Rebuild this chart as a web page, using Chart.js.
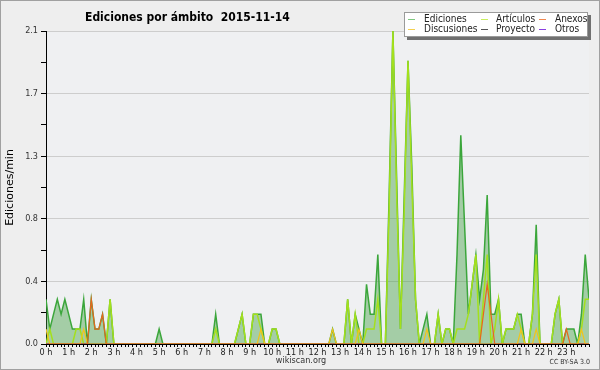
<!DOCTYPE html>
<html>
<head>
<meta charset="utf-8">
<script src="https://cdn.jsdelivr.net/npm/chart.js@4.4.1/dist/chart.umd.min.js"></script>
<style>
  html, body { margin: 0; padding: 0; background: #eeeeee; }
  canvas { display: block; }
</style>
</head>
<body>
<canvas id="grafico" width="600" height="370"></canvas>
<script>
// franjas de 10 minutos: indice 0 = 0:00 ... 144 = 24:00
const horas = ['0 h','1 h','2 h','3 h','4 h','5 h','6 h','7 h','8 h','9 h','10 h','11 h',
               '12 h','13 h','14 h','15 h','16 h','17 h','18 h','19 h','20 h','21 h','22 h','23 h'];

// ediciones por minuto, una fila = 2 horas
const ediciones = [
  0.3,0.1,0.2,0.3,0.2,0.3, 0.2,0.1,0.1,0.1,0.3,0,
  0.3,0.1,0.1,0.2,0,0.3, 0,0,0,0,0,0,
  0,0,0,0,0,0, 0.1,0,0,0,0,0,
  0,0,0,0,0,0, 0,0,0,0.2,0,0,
  0,0,0,0.1,0.2,0, 0,0.2,0.2,0.2,0,0,
  0.1,0.1,0,0,0,0, 0,0,0,0,0,0,
  0,0,0,0,0.1,0, 0,0,0.3,0,0.2,0.1,
  0,0.4,0.2,0.2,0.6,0, 0,1.0,2.1,1.1,0.1,1.0,
  1.9,1.2,0.3,0,0.1,0.2, 0,0,0.2,0,0.1,0.1,
  0,0.6,1.4,0.8,0.2,0.4, 0.6,0.3,0.5,1.0,0.2,0.2,
  0.3,0,0.1,0.1,0.1,0.2, 0.2,0,0,0.2,0.8,0,
  0,0,0,0.2,0.3,0, 0.1,0.1,0.1,0,0.2,0.6,
  0.3
];
const articulos = [
  0,0.1,0,0,0,0, 0,0,0.1,0.1,0,0,
  0,0,0,0,0,0.3, 0,0,0,0,0,0,
  0,0,0,0,0,0, 0,0,0,0,0,0,
  0,0,0,0,0,0, 0,0,0,0.1,0,0,
  0,0,0,0.1,0.2,0, 0,0.2,0.2,0.1,0,0,
  0.1,0.1,0,0,0,0, 0,0,0,0,0,0,
  0,0,0,0,0,0, 0,0,0.3,0,0.2,0,
  0,0.1,0.1,0.1,0.3,0, 0,0.9,2.1,1.0,0.1,0.9,
  1.9,1.1,0.3,0,0,0, 0,0,0.2,0,0.1,0.1,
  0,0.1,0.1,0.1,0.2,0.4, 0.6,0,0.3,0.6,0,0.1,
  0.3,0,0.1,0.1,0.1,0.2, 0.1,0,0,0.2,0.6,0,
  0,0,0,0.2,0.3,0, 0,0,0,0,0.1,0.3,
  0.3
];
const anexos = [
  0,0,0,0,0,0, 0,0,0,0,0,0,
  0.3,0.1,0.1,0.2,0,0, 0,0,0,0,0,0,
  0,0,0,0,0,0, 0,0,0,0,0,0,
  0,0,0,0,0,0, 0,0,0,0,0,0,
  0,0,0,0,0,0, 0,0,0,0,0,0,
  0,0,0,0,0,0, 0,0,0,0,0,0,
  0,0,0,0,0,0, 0,0,0,0,0,0,
  0,0,0,0,0,0, 0,0,0,0,0,0,
  0,0,0,0,0,0, 0,0,0,0,0,0,
  0,0,0,0,0,0, 0,0,0.2,0.4,0.2,0,
  0,0,0,0,0,0, 0,0,0,0,0,0,
  0,0,0,0,0,0, 0.1,0,0,0,0,0,
  0
];
const discusiones = [
  0.1,0,0,0,0,0, 0,0,0,0,0.1,0,
  0,0,0,0,0,0, 0,0,0,0,0,0,
  0,0,0,0,0,0, 0,0,0,0,0,0,
  0,0,0,0,0,0, 0,0,0,0,0,0,
  0,0,0,0,0,0, 0,0,0,0.1,0,0,
  0,0,0,0,0,0, 0,0,0,0,0,0,
  0,0,0,0,0.1,0, 0,0,0,0,0,0.1,
  0,0,0,0,0,0, 0,0,0,0,0,0,
  0,0,0,0,0,0.1, 0,0,0,0,0,0,
  0,0,0,0,0,0, 0,0,0,0,0,0,
  0,0,0,0,0,0, 0.1,0,0,0,0.1,0,
  0,0,0,0,0,0, 0,0,0,0,0.1,0,
  0
];
const proyecto = [
  0,0,0,0,0,0, 0,0,0,0,0,0,  0,0,0,0,0,0, 0,0,0,0,0,0,
  0,0,0,0,0,0, 0,0,0,0,0,0,  0,0,0,0,0,0, 0,0,0,0,0,0,
  0,0,0,0,0,0, 0,0,0,0,0,0,  0,0,0,0,0,0, 0,0,0,0,0,0,
  0,0,0,0,0,0, 0,0,0,0,0,0,  0,0,0,0,0,0, 0,0,0,0,0,0,
  0,0,0,0,0,0, 0,0,0,0,0,0,  0,0,0,0,0,0, 0,0,0,0,0,0,
  0,0,0,0,0,0, 0,0,0,0,0,0,  0,0,0,0,0,0, 0,0,0,0,0,0,
  0
];
const otros = [
  0,0,0,0,0,0, 0,0,0,0,0,0,  0,0,0,0,0,0, 0,0,0,0,0,0,
  0,0,0,0,0,0, 0,0,0,0,0,0,  0,0,0,0,0,0, 0,0,0,0,0,0,
  0,0,0,0,0,0, 0,0,0,0,0,0,  0,0,0,0,0,0, 0,0,0,0,0,0,
  0,0,0,0,0,0, 0,0,0,0,0,0,  0,0,0,0,0,0, 0,0,0,0,0,0,
  0,0,0,0,0,0, 0,0,0,0,0,0,  0,0,0,0,0,0, 0,0,0,0,0,0,
  0,0,0,0,0,0, 0,0,0,0,0,0,  0,0,0,0,0,0, 0,0,0,0,0,0,
  0
];

const franjas = ediciones.map((_, i) => i);
const COND = '"DejaVu Sans Condensed", "DejaVu Sans", sans-serif';

// fondo, titulo, leyenda y pie dibujados a mano
const decorado = {
  id: 'decorado',
  beforeDraw(chart) {
    const {ctx, chartArea: a} = chart;
    ctx.save();
    ctx.fillStyle = '#eeeeee';
    ctx.fillRect(0, 0, 600, 370);
    ctx.strokeStyle = '#a0a0a0';
    ctx.strokeRect(0.5, 0.5, 599, 369);
    ctx.fillStyle = '#eff0f2';
    ctx.fillRect(a.left, a.top, a.right - a.left, a.bottom - a.top);
    ctx.restore();
  },
  afterDraw(chart) {
    const ctx = chart.ctx;
    ctx.save();
    // titulo
    ctx.fillStyle = '#000';
    ctx.font = 'bold 12px ' + COND;
    ctx.textBaseline = 'alphabetic';
    ctx.textAlign = 'left';
    ctx.fillText('Ediciones por ámbito  2015-11-14', 85, 20.5);

    // leyenda
    ctx.textBaseline = 'middle';
    ctx.fillStyle = '#707070';
    ctx.fillRect(407, 15, 184, 25);
    ctx.fillStyle = '#ffffff';
    ctx.fillRect(404, 12, 184, 25);
    ctx.strokeStyle = '#9a9a9a';
    ctx.lineWidth = 1;
    ctx.strokeRect(404.5, 12.5, 183, 24);
    const colX = [408, 481, 539];
    const txtX = [424, 496, 555];
    const filaY = [19.5, 29.5];
    ctx.font = '10px ' + COND;
    chart.data.datasets.forEach((ds, k) => {
      const c = k % 3, f = Math.floor(k / 3);
      ctx.strokeStyle = ds.legendColor || ds.borderColor;
      ctx.beginPath();
      ctx.moveTo(colX[c], filaY[f]);
      ctx.lineTo(colX[c] + 7, filaY[f]);
      ctx.stroke();
      ctx.fillStyle = '#222';
      ctx.fillText(ds.label, txtX[c], filaY[f]);
    });

    // pie
    ctx.fillStyle = '#333';
    ctx.font = '9px ' + COND;
    ctx.textAlign = 'center';
    ctx.fillText('wikiscan.org', 301, 361);
    ctx.font = '7px ' + COND;
    ctx.textAlign = 'right';
    ctx.fillText('CC BY-SA 3.0', 590, 362);
    ctx.restore();
  }
};

new Chart(document.getElementById('grafico'), {
  type: 'line',
  data: {
    labels: franjas,
    datasets: [
      { label: 'Ediciones', data: ediciones, borderColor: '#3ba63b', legendColor: '#80c880',
        backgroundColor: 'rgba(64,160,64,0.43)', fill: 'origin', borderWidth: 1.5, order: 6 },
      { label: 'Artículos', data: articulos, borderColor: '#a4e01c', legendColor: '#c8ee60',
        fill: false, borderWidth: 1.5, order: 5 },
      { label: 'Anexos', data: anexos, borderColor: '#e8661e', legendColor: '#f08850',
        fill: false, borderWidth: 1.2, order: 1 },
      { label: 'Discusiones', data: discusiones, borderColor: '#f0c41c', legendColor: '#f4d050',
        fill: false, borderWidth: 1.2, order: 2 },
      { label: 'Proyecto', data: proyecto, borderColor: '#555555',
        fill: false, borderWidth: 1.2, order: 3 },
      { label: 'Otros', data: otros, borderColor: '#8a3fe0',
        fill: false, borderWidth: 1.2, order: 4 }
    ]
  },
  options: {
    responsive: false,
    animation: false,
    devicePixelRatio: 1,
    elements: { point: { radius: 0 }, line: { tension: 0 } },
    layout: { padding: { left: 0, right: 11, top: 31, bottom: 0 } },
    plugins: { legend: { display: false }, title: { display: false }, tooltip: { enabled: false } },
    scales: {
      x: {
        type: 'linear',
        min: 0,
        max: 144,
        z: 1,
        afterFit: s => { s.height = 26; },
        border: { display: true, color: '#000', width: 1 },
        grid: { drawOnChartArea: false, drawTicks: true, tickLength: 3, tickColor: '#000' },
        ticks: {
          stepSize: 1,
          maxTicksLimit: 145,
          autoSkip: false,
          maxRotation: 0,
          minRotation: 0,
          padding: 0,
          color: '#222',
          font: { family: COND, size: 9 },
          callback: v => (v % 6 === 0 && v < 144) ? horas[v / 6] : ''
        }
      },
      y: {
        min: 0,
        max: 2.1,
        afterFit: s => { s.width = 46; },
        border: { display: true, color: '#000', width: 1 },
        grid: {
          color: c => c.index % 2 === 0 ? '#cdcdcd' : 'rgba(0,0,0,0)',
          tickColor: '#000',
          tickLength: 5
        },
        ticks: {
          stepSize: 0.21,
          padding: 3,
          color: '#333',
          font: { family: COND, size: 9 },
          callback: (v, i) => i % 2 === 0 ? v.toFixed(1) : ''
        },
        title: {
          display: true,
          text: 'Ediciones/min',
          color: '#000',
          font: { family: 'DejaVu Sans', size: 11 },
          padding: { top: 4, bottom: 0 }
        }
      }
    }
  },
  plugins: [decorado]
});
</script>
</body>
</html>
